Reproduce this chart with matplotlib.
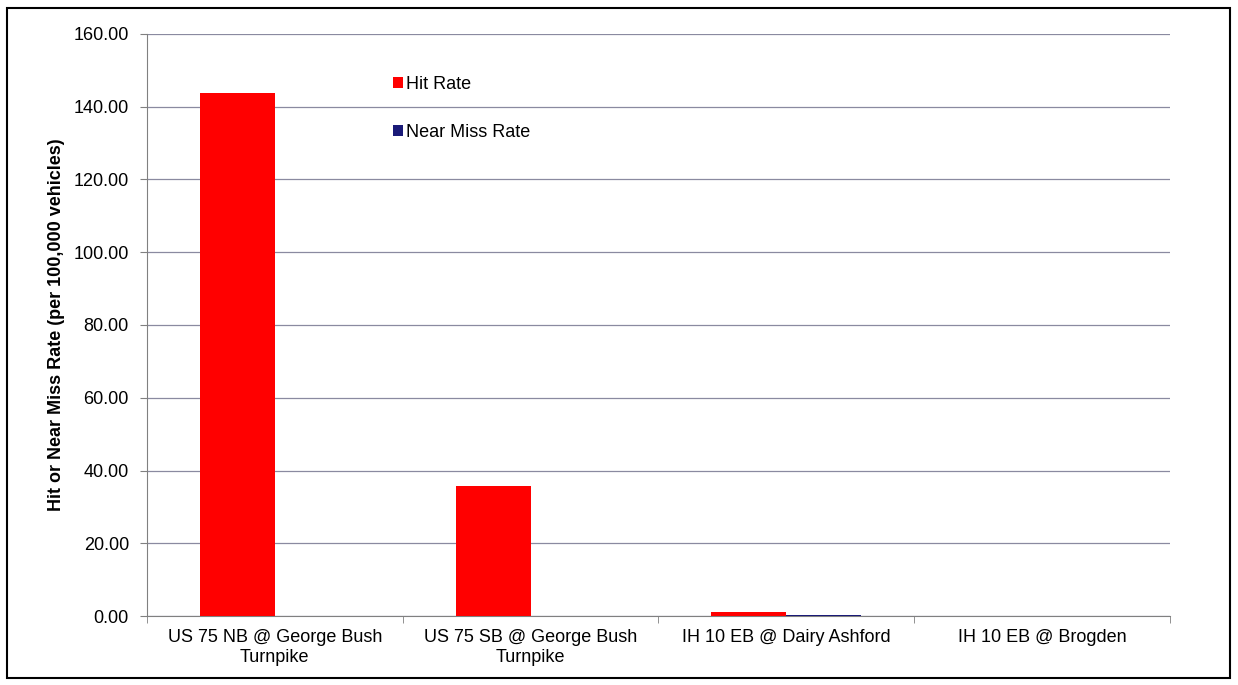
import numpy as np
import matplotlib.pyplot as plt
from matplotlib.patches import Rectangle

# dados
locais = ['US 75 NB @ George Bush\nTurnpike', 'US 75 SB @ George Bush\nTurnpike',
          'IH 10 EB @ Dairy Ashford', 'IH 10 EB @ Brogden']
hit_rate = [143.9, 35.7, 1.1, 0.0]
near_miss = [0.0, 0.0, 0.4, 0.0]
yticks = np.arange(0, 161, 20)

plt.rcParams['font.family'] = ['Liberation Sans', 'DejaVu Sans']

fig = plt.figure(figsize=(12.38, 6.85), dpi=100)
ax = fig.add_axes([0.1187, 0.1007, 0.8264, 0.8497])

x = np.arange(len(locais))
larg = 0.293
ax.bar(x - larg / 2, hit_rate, larg, color='#ff0000', label='Hit Rate', zorder=3)
ax.bar(x + larg / 2, near_miss, larg, color='#1a1a78', label='Near Miss Rate', zorder=3)

ax.set_xlim(-0.5, len(locais) - 0.5)
ax.set_ylim(0, 160)
ax.set_yticks(yticks)
ax.set_yticklabels(['%.2f' % v for v in yticks], fontsize=13)
ax.yaxis.grid(True, color='#8a8aa0', linewidth=0.9, zorder=0)

ax.set_xticks(x)
ax.set_xticklabels(locais, fontsize=13, linespacing=1.3)
ax.tick_params(axis='x', length=0, pad=9)
ax.set_xticks(np.arange(-0.5, len(locais)), minor=True)
ax.tick_params(axis='x', which='minor', length=5, color='#808080')
ax.tick_params(axis='y', length=5, color='#808080', pad=8)

for lado in ['top', 'right']:
    ax.spines[lado].set_visible(False)
ax.spines['left'].set_color('#808080')
ax.spines['bottom'].set_color('#808080')

ax.set_ylabel('Hit or Near Miss Rate (per 100,000 vehicles)', fontsize=13,
              fontweight='bold', labelpad=6)

ax.legend(loc='upper left', bbox_to_anchor=(0.2405, 0.928), frameon=False,
          fontsize=13, handlelength=0.55, handleheight=0.55, handletextpad=0.15,
          labelspacing=1.7, borderpad=0, borderaxespad=0)

# moldura externa
fig.patches.append(Rectangle((7 / 1238, 1 - 678 / 685), 1223 / 1238, 670 / 685,
                             transform=fig.transFigure, fill=False,
                             edgecolor='black', linewidth=1.5))

fig.savefig('out.png', dpi=100)
